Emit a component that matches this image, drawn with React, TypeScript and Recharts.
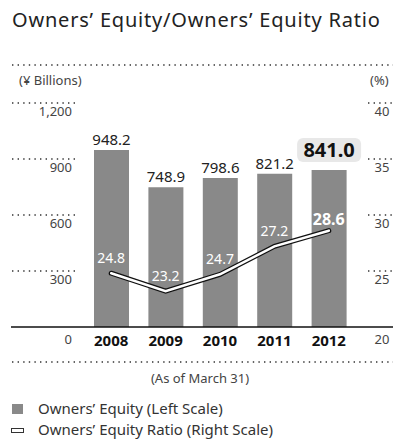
import React from 'react';
import { ComposedChart, Bar, Line, XAxis, YAxis, LabelList } from 'recharts';

const years = ['2008', '2009', '2010', '2011', '2012'];
const equity = [948.2, 748.9, 798.6, 821.2, 841.0];
const ratio = [24.8, 23.2, 24.7, 27.2, 28.6];
const leftTicks = [0, 300, 600, 900, 1200];
const rightTicks = [20, 25, 30, 35, 40];

const data = years.map((y, i) => ({ year: y, equity: equity[i], ratio: ratio[i] }));

const FONT = '"Noto Sans", sans-serif';
const BAR = '#898989';
const DOTS = '1.4 4.2';

const LeftTick = (props: any) => {
  const { y, payload } = props;
  const v = payload.value;
  return (
    <g>
      {v === 0 ? (
        <line x1={11} x2={393} y1={y} y2={y} stroke="#111" strokeWidth={1.5} />
      ) : (
        <line x1={12} x2={75} y1={y} y2={y} stroke="#333" strokeWidth={1.4} strokeDasharray={DOTS} />
      )}
      <text x={72} y={y + (v === 0 ? 14 : 10)} textAnchor="end" dominantBaseline="middle" fontSize={13} fill="#444" fontFamily={FONT}>
        {v.toLocaleString('en-US')}
      </text>
    </g>
  );
};

const RightTick = (props: any) => {
  const { y, payload } = props;
  const v = payload.value;
  return (
    <g>
      {v !== 20 && (
        <line x1={368} x2={393} y1={y} y2={y} stroke="#333" strokeWidth={1.4} strokeDasharray={DOTS} />
      )}
      <text x={382} y={y + (v === 20 ? 14 : 10)} textAnchor="middle" dominantBaseline="middle" fontSize={13} fill="#444" fontFamily={FONT}>
        {v}
      </text>
    </g>
  );
};

const YearTick = (props: any) => {
  const { x, y, payload } = props;
  return (
    <text x={x} y={y + 7} textAnchor="middle" dominantBaseline="middle" fontSize={15} fontWeight="bold" fill="#111" fontFamily={FONT}>
      {payload.value}
    </text>
  );
};

const BarLabel = (props: any) => {
  const { x, y, width, value, index } = props;
  const cx = x + width / 2;
  const txt = Number(value).toFixed(1);
  if (index === equity.length - 1) {
    return (
      <g>
        <rect x={cx - 32} y={y - 32} width={64} height={24} rx={6} fill="#e8e8e8" />
        <text x={cx} y={y - 18} textAnchor="middle" dominantBaseline="middle" fontSize={20} fontWeight="bold" fill="#111" fontFamily={FONT}>
          {txt}
        </text>
      </g>
    );
  }
  return (
    <text x={cx} y={y - 9} textAnchor="middle" dominantBaseline="middle" fontSize={15} fill="#222" fontFamily={FONT}>
      {txt}
    </text>
  );
};

const RatioLabel = (props: any) => {
  const { x, y, value, index } = props;
  const last = index === ratio.length - 1;
  return (
    <text x={x} y={y - (last ? 10 : 14)} textAnchor="middle" dominantBaseline="middle" fontSize={last ? 16 : 14} fontWeight={last ? 'bold' : 'normal'} fill="#fff" fontFamily={FONT}>
      {Number(value).toFixed(1)}
    </text>
  );
};

const App: React.FC = () => {
  return (
    <div style={{ position: 'absolute', left: 0, top: 0, width: 397, height: 441, background: '#fff', fontFamily: FONT, overflow: 'hidden' }}>
      <div style={{ position: 'absolute', left: 12, top: 6, fontSize: 20, letterSpacing: 0.8, color: '#222', whiteSpace: 'nowrap' }}>
        Owners’ Equity/Owners’ Equity Ratio
      </div>
      <svg style={{ position: 'absolute', left: 0, top: 0 }} width={397} height={441}>
        <line x1={12} x2={393} y1={65} y2={65} stroke="#333" strokeWidth={1.4} strokeDasharray={DOTS} />
        <line x1={12} x2={393} y1={362} y2={362} stroke="#333" strokeWidth={1.4} strokeDasharray={DOTS} />
      </svg>
      <div style={{ position: 'absolute', left: 19, top: 71, fontSize: 13, color: '#444' }}>(¥ Billions)</div>
      <div style={{ position: 'absolute', left: 370, top: 71, fontSize: 13, color: '#444' }}>(%)</div>
      <div style={{ position: 'absolute', left: 0, width: 400, textAlign: 'center', top: 369, fontSize: 13, color: '#444' }}>
        (As of March 31)
      </div>
      <div style={{ position: 'absolute', left: 0, top: 0 }}>
        <ComposedChart width={397} height={441} data={data} margin={{ top: 103, bottom: 94, left: 83, right: 40 }}>
          <XAxis dataKey="year" axisLine={false} tickLine={false} tick={<YearTick />} interval={0} height={20} />
          <YAxis yAxisId="left" domain={[0, 1200]} ticks={leftTicks} axisLine={false} tickLine={false} width={1} tick={<LeftTick />} interval={0} />
          <YAxis yAxisId="right" orientation="right" domain={[20, 40]} ticks={rightTicks} axisLine={false} tickLine={false} width={1} tick={<RightTick />} interval={0} />
          <Bar yAxisId="left" dataKey="equity" fill={BAR} barSize={35} isAnimationActive={false}>
            <LabelList dataKey="equity" content={<BarLabel />} />
          </Bar>
          <Line yAxisId="right" dataKey="ratio" type="linear" stroke="#111" strokeWidth={5} dot={false} strokeLinecap="round" isAnimationActive={false} />
          <Line yAxisId="right" dataKey="ratio" type="linear" stroke="#fff" strokeWidth={2.6} dot={false} strokeLinecap="round" isAnimationActive={false}>
            <LabelList dataKey="ratio" content={<RatioLabel />} />
          </Line>
        </ComposedChart>
      </div>
      <div style={{ position: 'absolute', left: 12, top: 404, width: 11, height: 10, background: BAR }} />
      <div style={{ position: 'absolute', left: 38, top: 398, fontSize: 15, color: '#333', whiteSpace: 'nowrap' }}>Owners’ Equity (Left Scale)</div>
      <div style={{ position: 'absolute', left: 11, top: 428, width: 11, height: 3, border: '1px solid #333', background: '#fff' }} />
      <div style={{ position: 'absolute', left: 38, top: 419, fontSize: 15, lineHeight: '20px', color: '#333', whiteSpace: 'nowrap' }}>Owners’ Equity Ratio (Right Scale)</div>
    </div>
  );
};

export default App;
